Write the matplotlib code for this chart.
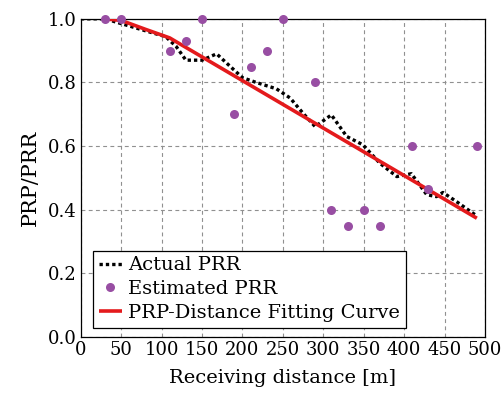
import matplotlib
matplotlib.use("Agg")
import matplotlib.pyplot as plt

# Actual PRR (dotted black)
actual_x = [0, 20, 30, 50, 70, 90, 105, 118, 130, 150, 168, 185, 200, 217, 242,
            259, 275, 290, 310, 329, 349, 370, 391, 409, 428, 440, 448, 465, 490]
actual_y = [1.0, 1.0, 1.0, 0.985, 0.97, 0.955, 0.944, 0.913, 0.87, 0.87, 0.89,
            0.85, 0.815, 0.80, 0.78, 0.751, 0.703, 0.661, 0.698, 0.63, 0.604,
            0.546, 0.504, 0.513, 0.447, 0.441, 0.454, 0.425, 0.38]

# Estimated PRR (purple dots)
est_x = [30, 50, 110, 130, 150, 190, 210, 230, 250, 290, 310, 330, 350, 370, 410, 430, 490]
est_y = [1.0, 1.0, 0.90, 0.93, 1.0, 0.70, 0.85, 0.90, 1.0, 0.80, 0.40, 0.35,
         0.40, 0.35, 0.60, 0.465, 0.60]

# PRP-distance fitting curve (red)
fit_x = [30, 50, 80, 110, 490]
fit_y = [1.0, 0.995, 0.967, 0.94, 0.373]

plt.rcParams["font.family"] = ["DejaVu Serif"]

fig = plt.figure(figsize=(5.02, 4.01), dpi=100)
ax = fig.add_axes([0.161, 0.160, 0.805, 0.793])

ax.plot(actual_x, actual_y, color="black", lw=2.4, linestyle=(0, (1, 0.9)),
        label="Actual PRR", zorder=3)
ax.plot(est_x, est_y, "o", color="#984ea3", ms=6.5, mec="none",
        label="Estimated PRR", clip_on=False, zorder=5)
ax.plot(fit_x, fit_y, color="#e41a1c", lw=2.6, label="PRP-Distance Fitting Curve",
        solid_capstyle="butt", zorder=4)

ax.set_xlim(0, 500)
ax.set_ylim(0, 1.0)
ax.set_xticks(range(0, 501, 50))
ax.set_yticks([0.0, 0.2, 0.4, 0.6, 0.8, 1.0])
ax.set_yticklabels(["0.0", "0.2", "0.4", "0.6", "0.8", "1.0"])
ax.tick_params(labelsize=13, length=0, pad=3)
ax.grid(True, color="#909090", linestyle=(0, (3.5, 3)), lw=0.8)

for s in ax.spines.values():
    s.set_color("black")
    s.set_linewidth(0.9)

ax.set_xlabel("Receiving distance [m]", fontsize=14, labelpad=7)
ax.set_ylabel("PRP/PRR", fontsize=15, labelpad=6)

leg = ax.legend(loc="lower left", bbox_to_anchor=(0.03, 0.028), borderaxespad=0,
                fontsize=14, frameon=True, fancybox=False, framealpha=1,
                edgecolor="black", handlelength=1.2, handletextpad=0.3,
                labelspacing=0.3, borderpad=0.3)
leg.get_frame().set_linewidth(0.9)
leg.set_zorder(10)

fig.savefig("out.png", dpi=100)
